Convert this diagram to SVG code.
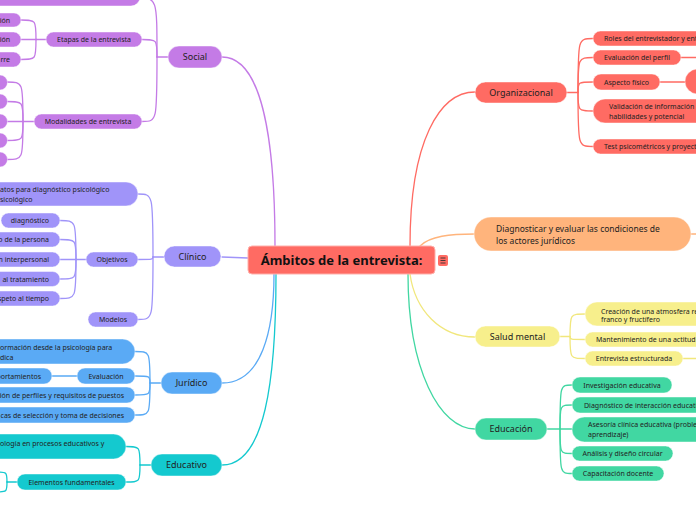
<svg xmlns="http://www.w3.org/2000/svg" width="696" height="520" viewBox="0 0 696 520">
<style>
text{font-family:"Noto Sans","Open Sans","DejaVu Sans",sans-serif;fill:#222}
.c{font-size:7px}
.b{font-size:9px}
.m{text-anchor:middle}
.e{text-anchor:end}
.p{stroke:rgba(255,255,255,0.45);stroke-width:1}
.soc{fill:#c47be6}.cli{fill:#a094f9}.jur{fill:#5aaaf5}.edu{fill:#14c9cf}
.org{fill:#ff6b63}.dia{fill:#ffb47c}.sal{fill:#f7ef8c}.ecn{fill:#41d7a2}
#connectors path{fill:none;stroke-width:1.3;stroke-linecap:round}
.ks{stroke:#c47be6}.kc{stroke:#a094f9}.kj{stroke:#5aaaf5}.ke{stroke:#14c9cf}
.ko{stroke:#ff6b63}.kd{stroke:#ffb47c}.kh{stroke:#f1e77c}.kn{stroke:#41d7a2}
</style>
<rect width="696" height="520" fill="#ffffff"/>
<g id="connectors">
<!-- center -->
<path class="ks" d="M222,57 C262,57 275,140 275,246"/>
<path class="kc" d="M222,257 L248,258"/>
<path class="kj" d="M222,383 C262,383 274,330 274,274"/>
<path class="ke" d="M222,465 C265,465 276,380 276,274"/>
<path class="ko" d="M410,246 C410,140 440,92 475,92"/>
<path class="kd" d="M420,246 C430,236 450,234 475,234"/>
<path class="kh" d="M410,274 C415,310 440,337 475,337"/>
<path class="kn" d="M408,274 C408,370 440,429 475,429"/>
<!-- social -->
<path class="ks" d="M168,57 H157"/>
<path class="ks" d="M157,57 C157,-2 157,-2 138,-2"/>
<path class="ks" d="M157,57 C157,39.5 157,39.5 142,39.5"/>
<path class="ks" d="M157,57 C157,121.5 157,121.5 142,121.5"/>
<path class="ks" d="M46,39.5 H36"/>
<path class="ks" d="M36,39.5 C36,20 36,20 21,20"/>
<path class="ks" d="M36,39.5 H21"/>
<path class="ks" d="M36,39.5 C36,59.5 36,59.5 21,59.5"/>
<path class="ks" d="M34,121.5 H23"/>
<path class="ks" d="M23,121.5 C23,82 23,82 7,82"/>
<path class="ks" d="M23,121.5 C23,101.5 23,101.5 7,101.5"/>
<path class="ks" d="M23,121.5 H7"/>
<path class="ks" d="M23,121.5 C23,140.5 23,140.5 7,140.5"/>
<path class="ks" d="M23,121.5 C23,159.5 23,159.5 7,159.5"/>
<!-- clinico -->
<path class="kc" d="M164,257 H153"/>
<path class="kc" d="M153,257 C153,194 153,194 138,194"/>
<path class="kc" d="M153,257 C153,259.5 153,259.5 138,259.5"/>
<path class="kc" d="M153,257 C153,319.5 153,319.5 138,319.5"/>
<path class="kc" d="M86,259.5 H76"/>
<path class="kc" d="M76,259.5 C76,220.5 76,220.5 60,220.5"/>
<path class="kc" d="M76,259.5 C76,239.5 76,239.5 60,239.5"/>
<path class="kc" d="M76,259.5 H60"/>
<path class="kc" d="M76,259.5 C76,279 76,279 60,279"/>
<path class="kc" d="M76,259.5 C76,298.5 76,298.5 60,298.5"/>
<!-- juridico -->
<path class="kj" d="M161,383 H150"/>
<path class="kj" d="M150,383 C150,351.5 150,351.5 135,351.5"/>
<path class="kj" d="M150,383 C150,376 150,376 135,376"/>
<path class="kj" d="M150,383 C150,395 150,395 135,395"/>
<path class="kj" d="M150,383 C150,415 150,415 135,415"/>
<path class="kj" d="M77,376 H52"/>
<!-- educativo -->
<path class="ke" d="M151,465 H140"/>
<path class="ke" d="M140,465 C140,446.5 140,446.5 126,446.5"/>
<path class="ke" d="M140,465 C140,482 140,482 126,482"/>
<path class="ke" d="M17,482 H7"/>
<path class="ke" d="M7,482 C7,472 7,472 -5,472"/>
<path class="ke" d="M7,482 C7,492 7,492 -5,492"/>
<!-- organizacional -->
<path class="ko" d="M567,92.5 H578"/>
<path class="ko" d="M578,92.5 C578,38.5 578,38.5 593,38.5"/>
<path class="ko" d="M578,92.5 C578,57.5 578,57.5 593,57.5"/>
<path class="ko" d="M578,92.5 C578,82 578,82 593,82"/>
<path class="ko" d="M578,92.5 C578,111 578,111 593,111"/>
<path class="ko" d="M578,92.5 C578,146.5 578,146.5 593,146.5"/>
<path class="ko" d="M681,57.5 H696"/>
<path class="ko" d="M660,82 H685"/>
<path class="kd" d="M691,234 H696"/>
<!-- salud mental -->
<path class="kh" d="M560,336.5 H570"/>
<path class="kh" d="M570,336.5 C570,314 570,314 585,314"/>
<path class="kh" d="M570,336.5 C570,339.5 570,339.5 585,339.5"/>
<path class="kh" d="M570,336.5 C570,358.5 570,358.5 585,358.5"/>
<path class="kh" d="M683,358.5 H696"/>
<!-- educacion -->
<path class="kn" d="M547,429 H560"/>
<path class="kn" d="M560,429 C560,385 560,385 572,385"/>
<path class="kn" d="M560,429 C560,405 560,405 572,405"/>
<path class="kn" d="M560,429 H572"/>
<path class="kn" d="M560,429 C560,453.5 560,453.5 572,453.5"/>
<path class="kn" d="M560,429 C560,473.5 560,473.5 572,473.5"/>
</g>

<g id="center">
<rect x="248" y="246" width="187" height="28" rx="4" fill="#ff6b63" stroke="#ffb0ab" stroke-width="1"/>
<text x="341.5" y="264.5" class="m" style="font-size:13px;font-weight:bold;fill:#111">Ámbitos de la entrevista:</text>
</g>
<g id="center-icon">
<rect x="438" y="255" width="10" height="11" rx="2" fill="#ff6b63"/>
<path d="M440.5,258 H445.5 M440.5,260.5 H445.5 M440.5,263 H445.5" stroke="#333" stroke-width="0.9"/>
</g>

<!-- Social -->
<g id="social"><rect class="soc p" x="168" y="46" width="54" height="22" rx="11"/><text class="b m" x="195" y="60">Social</text></g>
<g id="social-top"><rect class="soc p" x="-60" y="-12" width="200" height="18" rx="9"/></g>
<g id="etapas"><rect class="soc p" x="46" y="32" width="96" height="15" rx="7.5"/><text class="c m" x="94" y="42">Etapas de la entrevista</text></g>
<g id="etapa-1"><rect class="soc p" x="-40" y="13" width="61" height="14" rx="7"/><text class="c e" x="10" y="22.5">ión</text></g>
<g id="etapa-2"><rect class="soc p" x="-40" y="32" width="61" height="15" rx="7.5"/><text class="c e" x="10" y="42">ión</text></g>
<g id="etapa-3"><rect class="soc p" x="-40" y="52" width="61" height="15" rx="7.5"/><text class="c e" x="10" y="62">rre</text></g>
<g id="modalidades"><rect class="soc p" x="34" y="114" width="108" height="15" rx="7.5"/><text class="c m" x="88" y="124">Modalidades de entrevista</text></g>
<g id="mod-1"><rect class="soc p" x="-30" y="75" width="37.5" height="15" rx="7.5"/></g>
<g id="mod-2"><rect class="soc p" x="-30" y="94" width="37.5" height="15" rx="7.5"/></g>
<g id="mod-3"><rect class="soc p" x="-30" y="114" width="37.5" height="15" rx="7.5"/></g>
<g id="mod-4"><rect class="soc p" x="-30" y="133" width="37.5" height="15" rx="7.5"/></g>
<g id="mod-5"><rect class="soc p" x="-30" y="152" width="37.5" height="15" rx="7.5"/></g>

<!-- Clinico -->
<g id="clinico"><rect class="cli p" x="164" y="246" width="57" height="21" rx="10.5"/><text class="b m" x="192.5" y="260">Clínico</text></g>
<g id="clinico-top"><rect class="cli p" x="-60" y="182" width="198" height="24" rx="12"/><text class="c" x="0" y="192">atos para diagnóstico psicológico</text><text class="c" x="0" y="202">sicológico</text></g>
<g id="objetivos"><rect class="cli p" x="86" y="252" width="52" height="15" rx="7.5"/><text class="c m" x="112" y="262">Objetivos</text></g>
<g id="modelos"><rect class="cli p" x="88" y="312" width="50" height="15" rx="7.5"/><text class="c m" x="113" y="322">Modelos</text></g>
<g id="obj-1"><rect class="cli p" x="1" y="213" width="59" height="15" rx="7.5"/><text class="c e" x="49" y="223">diagnóstico</text></g>
<g id="obj-2"><rect class="cli p" x="-40" y="232" width="100" height="15" rx="7.5"/><text class="c e" x="49" y="242">o de la persona</text></g>
<g id="obj-3"><rect class="cli p" x="-40" y="252" width="100" height="15" rx="7.5"/><text class="c e" x="49" y="262">n interpersonal</text></g>
<g id="obj-4"><rect class="cli p" x="-40" y="271.5" width="100" height="15" rx="7.5"/><text class="c e" x="49" y="281.5">al tratamiento</text></g>
<g id="obj-5"><rect class="cli p" x="-40" y="291" width="100" height="15" rx="7.5"/><text class="c e" x="49" y="301">speto al tiempo</text></g>

<!-- Juridico -->
<g id="juridico"><rect class="jur p" x="161" y="372" width="61" height="22" rx="11"/><text class="b m" x="191.5" y="386">Jurídico</text></g>
<g id="juridico-top"><rect class="jur p" x="-60" y="339" width="195" height="25" rx="12.5"/><text class="c" x="0" y="349.5">ormación desde la psicología para</text><text class="c" x="0" y="359.5">dica</text></g>
<g id="evaluacion"><rect class="jur p" x="77" y="368" width="58" height="16" rx="8"/><text class="c m" x="106" y="378.5">Evaluación</text></g>
<g id="comportamientos"><rect class="jur p" x="-40" y="368" width="92" height="16" rx="8"/><text class="c e" x="41" y="378.5">portamientos</text></g>
<g id="perfiles"><rect class="jur p" x="-40" y="387" width="175" height="16" rx="8"/><text class="c e" x="124" y="397.5">ión de perfiles y requisitos de puestos</text></g>
<g id="seleccion"><rect class="jur p" x="-40" y="407" width="175" height="16" rx="8"/><text class="c e" x="124" y="417.5">cas de selección y toma de decisiones</text></g>

<!-- Educativo -->
<g id="educativo"><rect class="edu p" x="151" y="454" width="71" height="22" rx="11"/><text class="b m" x="186.5" y="468">Educativo</text></g>
<g id="educativo-top"><rect class="edu p" x="-60" y="434" width="186" height="25" rx="12.5"/><text class="c" x="0" y="445.5">ología en procesos educativos y</text></g>
<g id="elementos"><rect class="edu p" x="17" y="474" width="109" height="16" rx="8"/><text class="c m" x="71.5" y="484.5">Elementos fundamentales</text></g>

<!-- Organizacional -->
<g id="organizacional"><rect class="org p" x="475" y="82" width="92" height="21" rx="10.5"/><text class="b m" x="521" y="96">Organizacional</text></g>
<g id="roles"><rect class="org p" x="593" y="31" width="140" height="15" rx="7.5"/><text class="c" x="604" y="41">Roles del entrevistador y ent</text></g>
<g id="eval-perfil"><rect class="org p" x="593" y="50" width="88" height="15" rx="7.5"/><text class="c" x="604" y="60">Evaluación del perfil</text></g>
<g id="aspecto"><rect class="org p" x="593" y="74" width="67" height="16" rx="8"/><text class="c" x="604" y="84.5">Aspecto físico</text></g>
<g id="aspecto-child"><rect class="org p" x="685" y="69" width="60" height="25" rx="12.5"/></g>
<g id="validacion"><rect class="org p" x="593" y="99" width="140" height="24" rx="12"/><text class="c" x="609" y="108.5">Validación de información</text><text class="c" x="609" y="118.5">habilidades y potencial</text></g>
<g id="test"><rect class="org p" x="593" y="139" width="140" height="15" rx="7.5"/><text class="c" x="604" y="149">Test psicométricos y proyect</text></g>

<!-- Diagnosticar -->
<g id="diagnosticar"><rect class="dia p" x="474" y="217" width="217" height="34" rx="17"/><text x="496" y="232" style="font-size:8.5px">Diagnosticar y evaluar las condiciones de</text><text x="496" y="244" style="font-size:8.5px">los actores jurídicos</text></g>

<!-- Salud mental -->
<g id="salud"><rect class="sal p" x="475" y="326" width="85" height="21" rx="10.5"/><text class="b m" x="517.5" y="340">Salud mental</text></g>
<g id="creacion"><rect class="sal p" x="585" y="302" width="140" height="24" rx="12"/><text class="c" x="601" y="313.5">Creación de una atmosfera re</text><text class="c" x="601" y="322">franco y fructífero</text></g>
<g id="mantenimiento"><rect class="sal p" x="585" y="332" width="140" height="15" rx="7.5"/><text class="c" x="596" y="342">Mantenimiento de una actitud</text></g>
<g id="estructurada"><rect class="sal p" x="585" y="351" width="98" height="15" rx="7.5"/><text class="c m" x="634" y="361">Entrevista estructurada</text></g>

<!-- Educacion -->
<g id="educacion"><rect class="ecn p" x="475" y="418" width="72" height="22" rx="11"/><text class="b m" x="511" y="432">Educación</text></g>
<g id="investigacion"><rect class="ecn p" x="572" y="377" width="100" height="16" rx="8"/><text class="c m" x="622" y="387.5">Investigación educativa</text></g>
<g id="interaccion"><rect class="ecn p" x="572" y="397" width="140" height="16" rx="8"/><text class="c" x="584" y="407.5">Diagnóstico de interacción educati</text></g>
<g id="asesoria"><rect class="ecn p" x="572" y="417" width="140" height="25" rx="12.5"/><text class="c" x="588" y="426.5">Asesoría clínica educativa (proble</text><text class="c" x="588" y="436.5">aprendizaje)</text></g>
<g id="analisis"><rect class="ecn p" x="572" y="446" width="101" height="15" rx="7.5"/><text class="c m" x="622.5" y="456">Análisis y diseño circular</text></g>
<g id="capacitacion"><rect class="ecn p" x="572" y="466" width="92" height="15" rx="7.5"/><text class="c m" x="618" y="476">Capacitación docente</text></g>
</svg>
